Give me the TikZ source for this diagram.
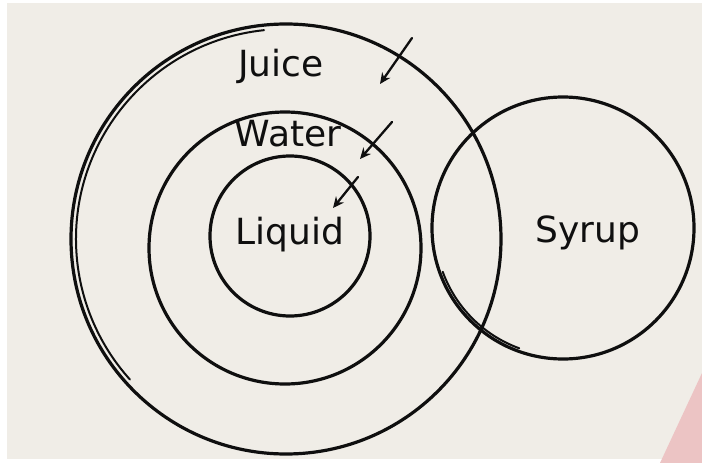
\documentclass[tikz,border=0pt]{standalone}
\usepackage{fontspec}
\setmainfont{DejaVu Sans}
\usetikzlibrary{arrows.meta,positioning,calc}
\definecolor{papercolor}{RGB}{240,237,231}
\definecolor{cornercolor}{RGB}{236,196,196}
\definecolor{inkcolor}{RGB}{15,15,15}
\tikzset{
  ring/.style={circle, draw=inkcolor, line width=3.2pt, inner sep=0pt},
  ringln/.style={draw=inkcolor, line width=2pt, line cap=round},
  pointer/.style={-{Stealth[length=11pt,width=10pt]}, line width=2.3pt, inkcolor, line cap=round},
  word/.style={inkcolor, font=\fontsize{36}{40}\selectfont},
}

\begin{document}
\begin{tikzpicture}[x=1pt, y=-1pt]
    \useasboundingbox (0,0) rectangle (702,463);
    % sheet of paper
    \fill[white] (0,0) rectangle (702,463);
    \fill[papercolor] (7,3) rectangle (702,459);
    \fill[cornercolor] (702,373) -- (660,463) -- (702,463) -- cycle;
    % the four sets
    \node[ring, minimum size=430pt] (juice) at (286,239) {};
    \node[ring, minimum size=272pt] (water) at (285,248) {};
    \node[ring, minimum size=160pt] (liquid) at (290,236) {};
    \node[ring, minimum size=262pt] (syrup) at (563,228) {};
    % second strokes
    \draw[ringln] (juice.center) ++(96:210pt) arc (96:222:210pt);
    \draw[ringln] (syrup.center) ++(200:128pt) arc (200:250:128pt);
    % labels
    \node[word] (juicetxt) at (281,66) {Juice};
    \node[word] (watertxt) at (288,134) {Water};
    \node[word] (liquidtxt) at (290,235) {Liquid};
    \node[word] (syruptxt) at (588,233) {Syrup};
    % pointers
    \coordinate (p1) at (412,38);
    \coordinate (q1) at (380,84);
    \coordinate (p2) at (392,122);
    \coordinate (q2) at (360,159);
    \coordinate (p3) at (358,177);
    \coordinate (q3) at (333,208);
    \draw[pointer] (p1) -- (q1);
    \draw[pointer] (p2) -- (q2);
    \draw[pointer] (p3) -- (q3);
\end{tikzpicture}
\end{document}
